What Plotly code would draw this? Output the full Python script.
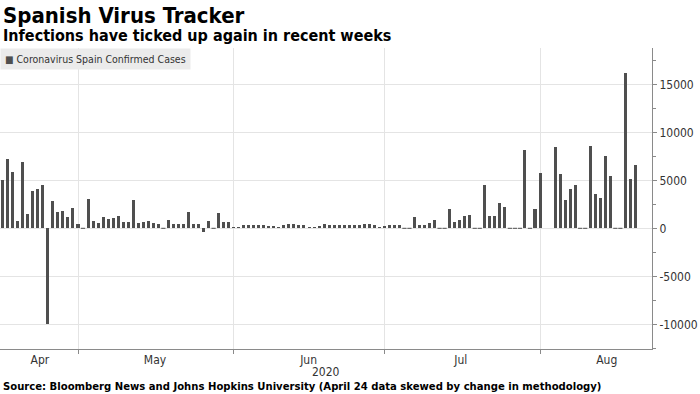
import pandas as pd
import plotly.graph_objects as go

# ---------------- data ----------------
title = "Spanish Virus Tracker"
subtitle = "Infections have ticked up again in recent weeks"
series_name = "Coronavirus Spain Confirmed Cases"
source = "Source: Bloomberg News and Johns Hopkins University (April 24 data skewed by change in methodology)"
axis_year = "2020"

dates = pd.date_range("2020-04-15", "2020-08-19", freq="D")

cases_apr = [5040, 7220, 5830, 800, 6880, 1500, 3920, 4100, 4550, -10000,
             2880, 1670, 1770, 1215, 2080, 450]
cases_may = [0, 3060, 800, 520, 1215, 970, 1040, 1320, 700, 700,
             3000, 600, 650, 800, 600, 450, 0, 870, 420, 450,
             450, 1740, 420, 450, -350, 800, 0, 1630, 620, 620, 170]
cases_jun = [100, 300, 300, 300, 300, 300, 250, 250, 150, 300,
             400, 450, 300, 300, 100, 100, 250, 500, 350, 350,
             300, 300, 300, 300, 350, 450, 450, 300, 150, 240]
cases_jul = [350, 380, 380, 0, 0, 1215, 310, 350, 520, 830,
             0, 0, 1980, 660, 830, 1320, 1390, 0, 0, 4550,
             1320, 1320, 2600, 2260, 0, 0, 0, 8125, 0, 1980, 5800]
cases_aug = [None, None, 8470, 5690, 2920, 4060, 4480, 0, 0, 8540,
             3540, 3160, 7500, 5450, 0, 0, 16215, 5100, 6630]
cases = cases_apr + cases_may + cases_jun + cases_jul + cases_aug

month_starts = ["2020-05-01", "2020-06-01", "2020-07-01", "2020-08-01"]
month_label_dates = ["2020-04-23 10:00", "2020-05-16 08:00", "2020-06-15 22:00",
                     "2020-07-16 05:00", "2020-08-14 07:00"]
month_labels = ["Apr", "May", "Jun", "Jul", "Aug"]
y_tick_values = [-10000, -5000, 0, 5000, 10000, 15000]
y_tick_labels = [str(v) for v in y_tick_values]

x_range = ["2020-04-15 11:15", "2020-08-23 07:10"]
y_range = [-12573, 18781]

# ---------------- style ----------------
BAR = "#4f4f4f"
GRID = "#e4e4e4"
AXIS = "#8a8a8a"
TXT = "#333333"
FONT = "DejaVu Sans Condensed, DejaVu Sans, sans-serif"
DAY_MS = 86400000

# bars are drawn at the end of each reporting day
bar_x = dates + pd.Timedelta(days=1)
zero_x = [x for x, v in zip(bar_x, cases) if v == 0]
zero_y = [0 for v in cases if v == 0]

fig = go.Figure()
fig.add_trace(go.Bar(
    x=bar_x, y=cases, name=series_name,
    marker=dict(color=BAR, line=dict(width=0)),
    width=0.6 * DAY_MS, showlegend=False,
))
fig.add_trace(go.Scatter(
    x=zero_x, y=zero_y, mode="markers", showlegend=False, hoverinfo="skip",
    marker=dict(symbol="line-ew", size=3, line=dict(width=1, color=BAR), color=BAR),
))

H_TOP, H_BOT = 48, 349
PH = H_BOT - H_TOP


def py(pix):
    return (H_BOT - pix) / PH


fig.update_layout(
    width=700, height=394,
    margin=dict(l=0, r=48, t=H_TOP, b=394 - H_BOT),
    paper_bgcolor="white", plot_bgcolor="white",
    font=dict(family=FONT, size=12, color=TXT),
    bargap=0,
    xaxis=dict(
        type="date", range=x_range,
        tickmode="array", tickvals=month_label_dates, ticktext=month_labels,
        ticks="", showgrid=False, zeroline=False,
        showline=True, linecolor=AXIS, linewidth=1,
        tickfont=dict(family=FONT, size=12, color=TXT),
        minor=dict(tickmode="array", tickvals=month_starts, ticks="outside",
                   ticklen=4, tickcolor=AXIS, showgrid=True, gridcolor=GRID, gridwidth=1),
        fixedrange=True, automargin=False,
    ),
    yaxis=dict(
        side="right", range=y_range,
        tickmode="array", tickvals=y_tick_values, ticktext=y_tick_labels,
        ticks="outside", ticklen=4, tickcolor=AXIS,
        showline=True, linecolor=AXIS, linewidth=1,
        showgrid=True, gridcolor=GRID, gridwidth=1, zeroline=False,
        tickfont=dict(family=FONT, size=12, color=TXT),
        minor=dict(tick0=0, dtick=2500, ticks="outside", ticklen=3, tickcolor=AXIS, showgrid=False),
        fixedrange=True, automargin=False,
    ),
    annotations=[
        dict(text=title, xref="paper", yref="paper", x=0, y=py(15), xshift=1,
             xanchor="left", yanchor="middle", showarrow=False,
             font=dict(family=FONT, size=22, color="black", weight="bold")),
        dict(text=subtitle, xref="paper", yref="paper", x=0, y=py(35), xshift=1,
             xanchor="left", yanchor="middle", showarrow=False,
             font=dict(family=FONT, size=16, color="black", weight="bold")),
        dict(text="<span style='font-size:10px;color:%s'>■</span> %s" % (BAR, series_name),
             xref="paper", yref="paper", x=0, y=py(59), xanchor="left", yanchor="middle",
             showarrow=False, bgcolor="#ebebeb", borderpad=4,
             font=dict(family=FONT, size=10.5, color=TXT)),
        dict(text=axis_year, xref="paper", yref="paper", x=0.5, y=py(372),
             xanchor="center", yanchor="middle", showarrow=False,
             font=dict(family=FONT, size=12, color=TXT)),
        dict(text=source, xref="paper", yref="paper", x=0, y=py(386), xshift=1,
             xanchor="left", yanchor="middle", showarrow=False,
             font=dict(family=FONT, size=11.2, color="black", weight="bold")),
    ],
)

fig.write_html(
    "out.html",
    config={"displayModeBar": False, "staticPlot": True},
    post_script="document.body.style.margin='0px';document.body.style.padding='0px';",
)
